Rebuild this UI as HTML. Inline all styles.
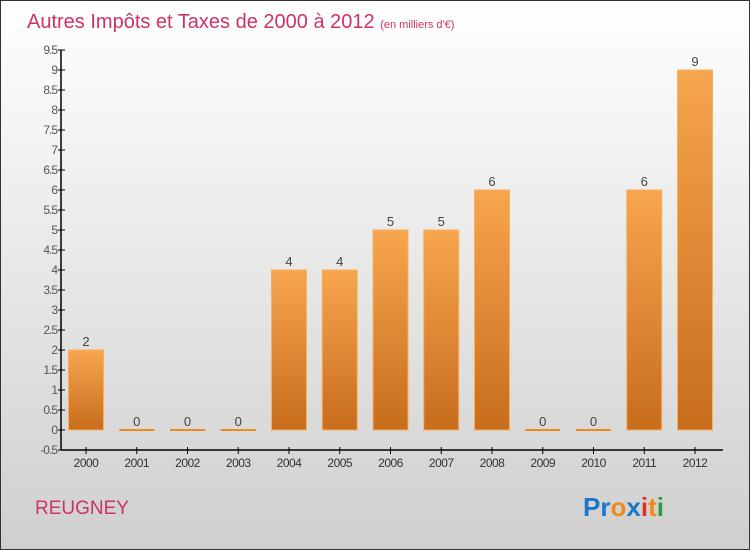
<!DOCTYPE html>
<html><head><meta charset="utf-8"><style>
body{margin:0}
#c{position:relative;width:748px;height:548px;border:1px solid #333;background:linear-gradient(#ffffff,#cfcfcf);font-family:"Liberation Sans",sans-serif;overflow:hidden}
</style></head><body>
<div id="c">
<svg width="748" height="548" id="s">
<defs><linearGradient id="g" x1="0" y1="0" x2="0" y2="1"><stop offset="0" stop-color="#f8a54f"/><stop offset="1" stop-color="#c76d1c"/></linearGradient></defs>
<text x="26" y="27" font-size="20" fill="#cc3366">Autres Impôts et Taxes de 2000 à 2012 <tspan font-size="11">(en milliers d'€)</tspan></text>
<text x="34" y="513" font-size="19" fill="#cc3366">REUGNEY</text>
<text x="582" y="515" font-size="26" font-weight="bold"><tspan fill="#1a78c8">Pr</tspan><tspan fill="#f08a1c">o</tspan><tspan fill="#1a78c8">x</tspan><tspan fill="#e03020">i</tspan><tspan fill="#f08a1c">t</tspan><tspan fill="#2a9a3a">i</tspan></text>
<g id="plot"></g>
</svg></div>
<script>
const categories=["2000","2001","2002","2003","2004","2005","2006","2007","2008","2009","2010","2011","2012"];
const values=[2,0,0,0,4,4,5,5,6,0,0,6,9];
const yTicks=[-0.5,0,0.5,1,1.5,2,2.5,3,3.5,4,4.5,5,5.5,6,6.5,7,7.5,8,8.5,9,9.5];
const NS="http://www.w3.org/2000/svg";
const g=document.getElementById('plot');
const y=v=>429-v*40;
const x=i=>85+i*50.75;
function el(t,a){const e=document.createElementNS(NS,t);for(const k in a)e.setAttribute(k,a[k]);g.appendChild(e);return e;}
let ax=el('line',{x1:60,y1:49,x2:60,y2:449,stroke:'#000','stroke-width':1.5});


let bx=el('line',{x1:60,y1:449,x2:722,y2:449,stroke:'#000','stroke-width':1.5});


yTicks.forEach(v=>{
 let t=el('line',{x1:57,y1:y(v),x2:64,y2:y(v),stroke:'#000'});
 
 
 let l=el('text',{x:56,y:y(v)+4,'font-size':12,fill:'#555','text-anchor':'end','letter-spacing':'-1'});
 l.textContent=String(v);
 
 
});
categories.forEach((c,i)=>{
 let t=el('line',{x1:x(i),y1:446,x2:x(i),y2:453,stroke:'#000'});
 
 
 let l=el('text',{x:x(i),y:466,'font-size':12,fill:'#333','text-anchor':'middle','letter-spacing':'-0.5'});
 l.textContent=c;
 
 
 const v=values[i];
 let b;
 if(v>0){b=el('rect',{x:x(i)-17.5,y:y(v),width:35,height:y(0)-y(v),fill:'url(#g)',stroke:'#f8b060','stroke-width':1});}
 else{b=el('rect',{x:x(i)-17.5,y:y(0)-1,width:35,height:2,fill:'#f08a1c'});}
 
 
 let vl=el('text',{x:x(i),y:y(v)-4,'font-size':13,fill:'#444','text-anchor':'middle'});
 vl.textContent=String(v);
 
 
});
</script>
</body></html>
